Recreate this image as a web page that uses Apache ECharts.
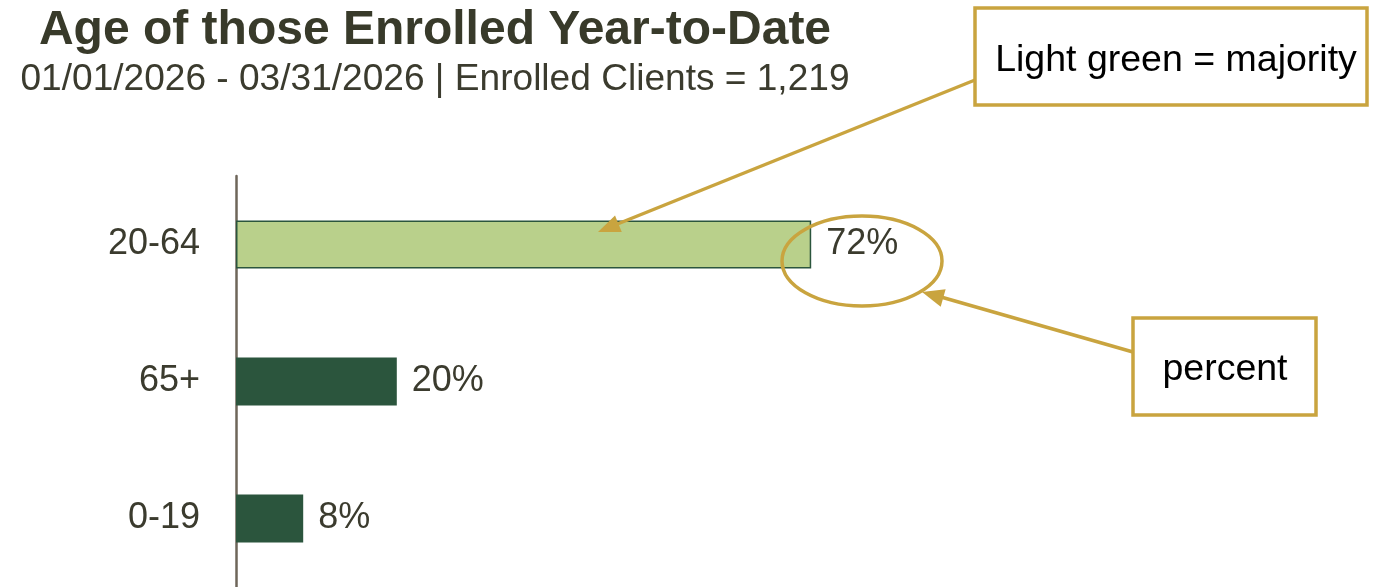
<!DOCTYPE html>
<html><head><meta charset="utf-8">
<script src="https://cdn.jsdelivr.net/npm/echarts@6/dist/echarts.min.js"></script>
<style>html,body{margin:0;padding:0;background:#fff}#c{width:1384px;height:587px}</style>
</head><body><div id="c"></div>
<script>
const categories = ['20-64', '65+', '0-19'];
const values = [71.9, 20.1, 8.4];
const valueLabels = ['72%', '20%', '8%'];
const titleText = 'Age of those Enrolled Year-to-Date';
const subtitleText = '01/01/2026 - 03/31/2026 | Enrolled Clients = 1,219';
const noteMajority = 'Light green = majority';
const notePercent = 'percent';

const FONT = "'Liberation Sans', Arial, sans-serif";
const GOLD = '#c9a43f';
const LIGHT = '#b9d08b';
const DARK = '#2b553d';
const TXT = '#3b3b2e';

const chart = echarts.init(document.getElementById('c'));

function arrowHead(tip, from, len, half) {
  const dx = tip[0] - from[0], dy = tip[1] - from[1];
  const d = Math.hypot(dx, dy), ux = dx / d, uy = dy / d;
  const bx = tip[0] - ux * len, by = tip[1] - uy * len;
  return [tip, [bx - uy * half, by + ux * half], [bx + uy * half, by - ux * half]];
}

const a1from = [975, 80], a1tip = [598, 232];
const a2from = [1133, 352], a2tip = [922, 292];

chart.setOption({
  animation: false,
  title: [
    { text: titleText, left: 430, textAlign: 'center', top: 2,
      textStyle: { fontFamily: FONT, fontSize: 48, fontWeight: 'bold', color: '#383a2a' } },
    { text: subtitleText, left: 430, textAlign: 'center', top: 56,
      textStyle: { fontFamily: FONT, fontSize: 37.1, fontWeight: 'normal', color: TXT } }
  ],
  grid: { left: 236, top: 176, bottom: 0, right: 348, containLabel: false },
  xAxis: { type: 'value', min: 0, max: 100, show: false },
  yAxis: {
    type: 'category', data: categories, inverse: true,
    axisLine: { show: true, lineStyle: { color: '#6e665a', width: 2.5 } },
    axisTick: { show: false },
    axisLabel: { fontFamily: FONT, fontSize: 36, color: TXT, margin: 36 }
  },
  series: [{
    type: 'bar', barWidth: 48,
    data: values.map((v, i) => ({
      value: v,
      itemStyle: i === 0 ? { color: LIGHT, borderColor: DARK, borderWidth: 1.5 } : { color: DARK }
    })),
    label: {
      show: true, position: 'right', distance: 15,
      fontFamily: FONT, fontSize: 36, color: TXT,
      formatter: p => valueLabels[p.dataIndex]
    }
  }],
  graphic: [
    { type: 'ellipse', shape: { cx: 862, cy: 261, rx: 80, ry: 45 },
      style: { fill: 'none', stroke: GOLD, lineWidth: 3.5 }, z: 10 },
    { type: 'line', shape: { x1: a1from[0], y1: a1from[1], x2: a1tip[0] + 12, y2: a1tip[1] - 5 },
      style: { stroke: GOLD, lineWidth: 3.5 }, z: 10 },
    { type: 'polygon', shape: { points: arrowHead(a1tip, a1from, 22, 9) },
      style: { fill: GOLD }, z: 10 },
    { type: 'line', shape: { x1: a2from[0], y1: a2from[1], x2: a2tip[0] + 12, y2: a2tip[1] + 3 },
      style: { stroke: GOLD, lineWidth: 3.5 }, z: 10 },
    { type: 'polygon', shape: { points: arrowHead(a2tip, a2from, 22, 9) },
      style: { fill: GOLD }, z: 10 },
    { type: 'rect', shape: { x: 975, y: 8, width: 392, height: 97 },
      style: { fill: '#fff', stroke: GOLD, lineWidth: 3.5 }, z: 11 },
    { type: 'text', x: 1176, y: 61, z: 12,
      style: { text: noteMajority, fontFamily: FONT, fontSize: 37.5, fill: '#000', align: 'center', verticalAlign: 'middle' } },
    { type: 'rect', shape: { x: 1133, y: 318, width: 183, height: 97 },
      style: { fill: '#fff', stroke: GOLD, lineWidth: 3.5 }, z: 11 },
    { type: 'text', x: 1225, y: 370, z: 12,
      style: { text: notePercent, fontFamily: FONT, fontSize: 37.5, fill: '#000', align: 'center', verticalAlign: 'middle' } }
  ]
});
</script></body></html>
